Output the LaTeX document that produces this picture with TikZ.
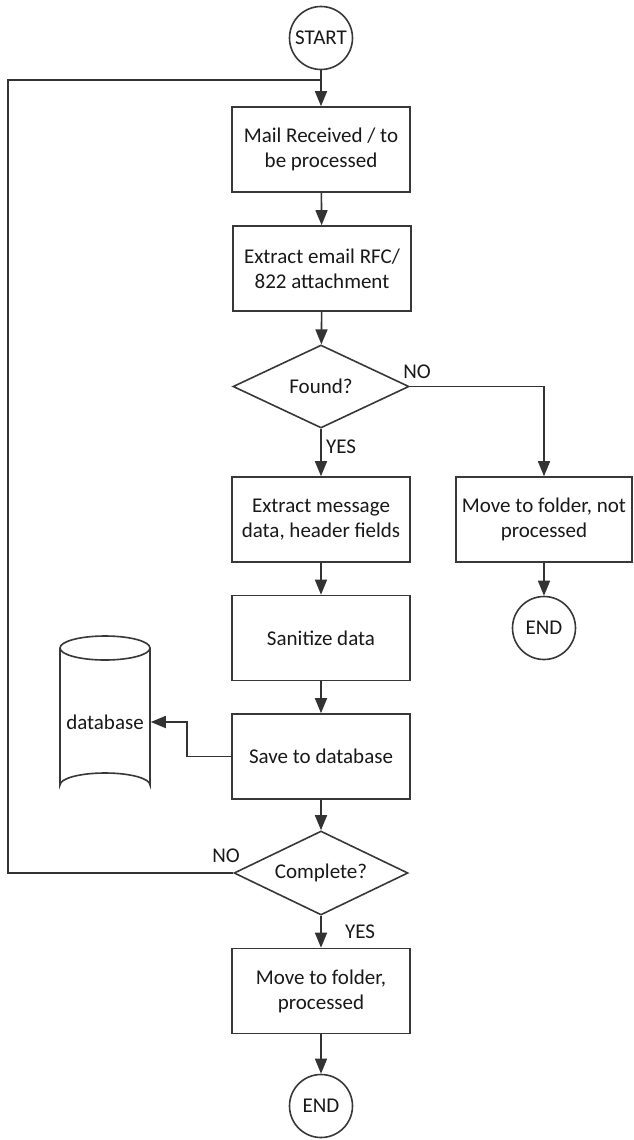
\documentclass[tikz,border=0pt]{standalone}
\usepackage{fontspec}
\setmainfont{Carlito}
\usetikzlibrary{shapes.geometric,arrows.meta}

\begin{document}
\begin{tikzpicture}[
  x=1pt, y=-1pt,
  line width=1.6pt,
  every node/.style={font=\fontsize{21}{25}\selectfont, text=black!90},
  flowline/.style={draw=black!80, line width=1.6pt},
  arrowline/.style={flowline, -{Triangle[length=15pt,width=12pt]}},
  procbox/.style={draw=black!78, rectangle, minimum width=178pt, minimum height=85pt,
                  align=center, inner sep=2pt, fill=white},
  decision/.style={draw=black!78, diamond, aspect=2.1, minimum width=176pt, minimum height=83pt,
                   inner sep=0pt, align=center, fill=white},
  terminal/.style={draw=black!78, circle, minimum size=63pt, inner sep=0pt, fill=white},
  branchlabel/.style={inner sep=0pt},
]
% canvas
\useasboundingbox (0,0) rectangle (633,1140);
\fill[white] (0,0) rectangle (633,1140);

% main column
\node[terminal] (start) at (321,38) {START};
\node[procbox] (mail) at (321,149.5) {Mail Received / to\\be processed};
\node[procbox] (extract) at (322,268.5) {Extract email RFC/\\822 attachment};
\node[decision] (found) at (321,386.5) {Found?};
\node[procbox] (msgdata) at (321,519.5) {Extract message\\data, header fields};
\node[procbox] (sanitize) at (321,638) {Sanitize data};
\node[procbox] (save) at (321,756.5) {Save to database};
\node[decision, minimum width=174pt, minimum height=84pt] (complete) at (321,873) {Complete?};
\node[procbox] (processed) at (321,991) {Move to folder,\\processed};
\node[terminal] (end2) at (321,1106) {END};

% rejected branch
\node[procbox, minimum width=176pt] (notproc) at (544,519.5) {Move to folder, not\\processed};
\node[terminal] (end1) at (544,628) {END};

% database store
\draw[draw=black!78] (60,648) -- (60,785) arc[start angle=180, end angle=360, x radius=45, y radius=12]
  -- (150,648);
\draw[draw=black!78] (105,648) ellipse[x radius=45, y radius=12];
\node[minimum width=90pt, inner sep=0pt] (db) at (105,722) {database};

% connectors
\coordinate (loopin) at (321,80);
\draw[arrowline] (start) -- (mail);
\draw[arrowline] (mail) -- (extract);
\draw[arrowline] (extract) -- (found);
\draw[arrowline] (found) -- (msgdata);
\draw[arrowline] (found.east) -| (notproc.north);
\draw[arrowline] (notproc) -- (end1);
\draw[arrowline] (msgdata) -- (sanitize);
\draw[arrowline] (sanitize) -- (save);
\draw[arrowline] (save.west) -- (187,756.5) |- (db.east);
\draw[arrowline] (save) -- (complete);
\draw[arrowline] (complete) -- (processed);
\draw[arrowline] (processed) -- (end2);
\draw[flowline] (complete.west) -- (8,873) |- (loopin);

% branch labels
\node[branchlabel] (foundno) at (417,372) {NO};
\node[branchlabel] (foundyes) at (341,447) {YES};
\node[branchlabel] (completeno) at (226,856) {NO};
\node[branchlabel] (completeyes) at (360,932) {YES};
\end{tikzpicture}
\end{document}
